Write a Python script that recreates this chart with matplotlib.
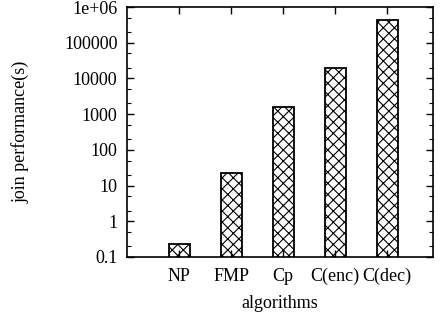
import matplotlib
matplotlib.use("Agg")
import matplotlib.pyplot as plt
from matplotlib.ticker import FixedLocator, FixedFormatter, LogLocator, NullFormatter

plt.rcParams['font.family'] = ['Liberation Serif', 'DejaVu Serif']
plt.rcParams['hatch.linewidth'] = 0.8

algorithms = ["NP", "FMP", "Cp", "C(enc)", "C(dec)"]
join_time = [0.23, 22, 1550, 19500, 430000]

ytick_vals = [0.1, 1, 10, 100, 1000, 10000, 100000, 1e6]
ytick_labels = ["0.1", "1", "10", "100", "1000", "10000", "100000", "1e+06"]

fig = plt.figure(figsize=(4.4, 3.2), dpi=100)
ax = fig.add_axes([0.289, 0.197, 0.695, 0.781])

xs = list(range(len(algorithms)))
ax.bar(xs, join_time, width=0.4, color="white", edgecolor="black",
       hatch="xxx", linewidth=1.3)

ax.set_yscale("log")
ax.set_ylim(0.1, 1e6)
ax.set_xlim(-1, 4.88)
ax.yaxis.set_major_locator(FixedLocator(ytick_vals))
ax.yaxis.set_major_formatter(FixedFormatter(ytick_labels))
ax.yaxis.set_minor_locator(LogLocator(base=10, subs=(2, 5)))
ax.yaxis.set_minor_formatter(NullFormatter())
ax.set_xticks(xs)
ax.set_xticklabels(algorithms)

ax.tick_params(axis="both", which="major", direction="in", length=5, width=1,
               top=True, right=True, labelsize=13, pad=7)
ax.tick_params(axis="x", which="major", pad=8)
ax.tick_params(axis="y", which="minor", direction="in", length=3, width=0.8, right=True)
for s in ax.spines.values():
    s.set_linewidth(1.2)

ax.set_ylabel("join performance(s)", fontsize=13, labelpad=25)
ax.set_xlabel("algorithms", fontsize=13, labelpad=7)

fig.savefig("out.png", dpi=100)
